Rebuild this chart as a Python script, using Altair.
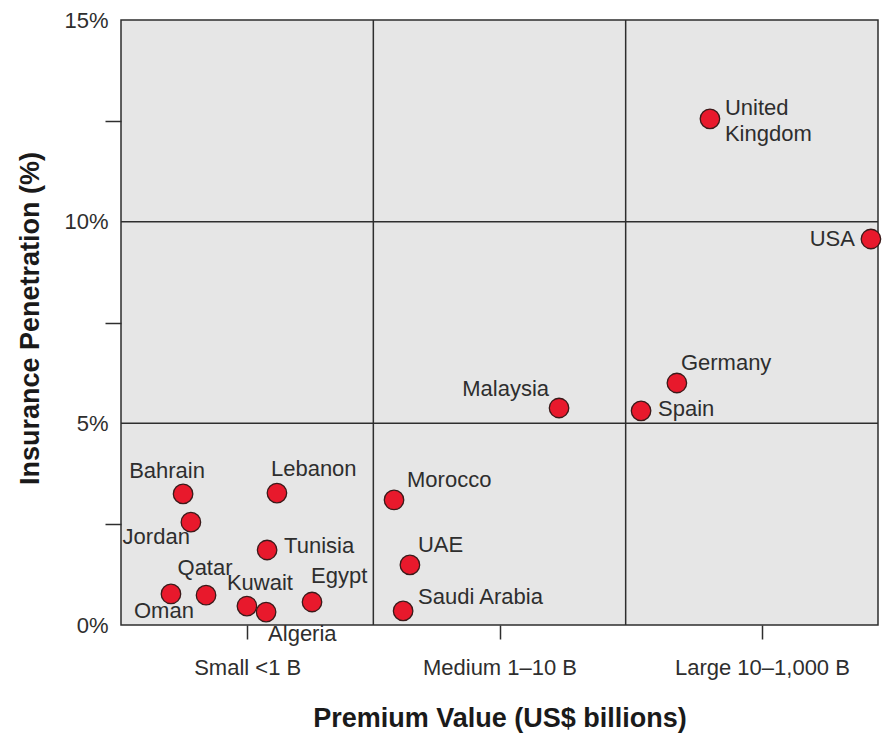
import altair as alt
import pandas as pd

# ---- data ----
countries = ["United Kingdom", "USA", "Germany", "Spain", "Malaysia", "Morocco", "UAE",
             "Saudi Arabia", "Bahrain", "Jordan", "Lebanon", "Tunisia", "Oman", "Qatar",
             "Kuwait", "Algeria", "Egypt"]
# horizontal position within the three premium tiers (0-1 small, 1-2 medium, 2-3 large)
tier_position = [2.334, 2.972, 2.203, 2.061, 1.736, 1.082, 1.145,
                 1.118, 0.246, 0.277, 0.618, 0.579, 0.198, 0.337,
                 0.499, 0.575, 0.757]
penetration = [12.55, 9.57, 6.0, 5.31, 5.38, 3.10, 1.49,
               0.35, 3.25, 2.55, 3.27, 1.86, 0.77, 0.74,
               0.47, 0.32, 0.57]

tier_ticks = [0.5, 1.5, 2.54]
tier_labels = ["Small <1 B", "Medium 1–10 B", "Large 10–1,000 B"]
tier_bounds = [1, 2]
pen_bounds = [5, 10]
pen_ticks = [0, 2.5, 5, 7.5, 10, 12.5, 15]

# ---- label placement (layout only) ----
label_layout = {
    "United Kingdom": ("left", 15, -11),
    "USA": ("right", -16, 0),
    "Germany": ("left", 4, -20),
    "Spain": ("left", 17, -2),
    "Malaysia": ("right", -10, -19),
    "Morocco": ("left", 13, -20),
    "UAE": ("left", 8, -20),
    "Saudi Arabia": ("left", 15, -14),
    "Bahrain": ("center", -16, -23),
    "Jordan": ("right", -1, 15),
    "Lebanon": ("left", -6, -24),
    "Tunisia": ("left", 17, -4),
    "Oman": ("center", -7, 17),
    "Qatar": ("center", -1, -27),
    "Kuwait": ("center", 13, -23),
    "Algeria": ("left", 2, 22),
    "Egypt": ("left", -1, -26),
}

df = pd.DataFrame({"country": countries, "tier": tier_position, "pen": penetration})
df_vb = pd.DataFrame({"tier": tier_bounds})
df_hb = pd.DataFrame({"pen": pen_bounds})

FONT = "Liberation Sans"
INK = "#2e2e2e"

x_scale = alt.Scale(domain=[0, 3], nice=False, zero=False)
y_scale = alt.Scale(domain=[0, 15], nice=False, zero=False)

# label expression for tier ticks built from the lists
expr = "''"
for v, lab in reversed(list(zip(tier_ticks, tier_labels))):
    expr = f"abs(datum.value - {v}) < 0.01 ? '{lab}' : ({expr})"

x_axis = alt.Axis(
    values=tier_ticks, labelExpr=expr, grid=False, domain=False,
    tickSize=14, tickColor=INK, tickWidth=1.5, labelFlush=False,
    labelFont=FONT, labelFontSize=22, labelColor=INK, labelPadding=18,
    title="Premium Value (US$ billions)", titleFont=FONT, titleFontSize=27,
    titleFontWeight="bold", titleColor="#1a1a1a", titleY=101,
    titleBaseline="alphabetic",
)
y_axis = alt.Axis(
    values=pen_ticks,
    labelExpr="datum.value % 5 === 0 ? datum.value + '%' : ''",
    grid=False, domain=False, tickSize=16, tickWidth=1.5,
    tickColor={"condition": {"test": "datum.value % 5 === 0", "value": "transparent"}, "value": INK},
    labelFont=FONT, labelFontSize=22, labelColor=INK, labelPadding=-3, labelOverlap=False,
    labelFlush=False,
    title="Insurance Penetration (%)", titleFont=FONT, titleFontSize=27,
    titleFontWeight="bold", titleColor="#1a1a1a", titleAngle=-90,
    titleX=-91, titleY=298, titleAlign="center", titleBaseline="middle",
)

points = alt.Chart(df).mark_point(
    filled=True, size=380, color="#e8192c", stroke="#3a1a1a", strokeWidth=1.3, opacity=1
).encode(
    x=alt.X("tier:Q", scale=x_scale, axis=x_axis),
    y=alt.Y("pen:Q", scale=y_scale, axis=y_axis),
)

vrules = alt.Chart(df_vb).mark_rule(color=INK, strokeWidth=1.5).encode(
    x=alt.X("tier:Q", scale=x_scale)
)
hrules = alt.Chart(df_hb).mark_rule(color=INK, strokeWidth=1.5).encode(
    y=alt.Y("pen:Q", scale=y_scale)
)

text_layers = []
for c in countries:
    align, dx, dy = label_layout[c]
    kw = dict(align=align, dx=dx, dy=dy, baseline="middle", font=FONT,
              fontSize=22, color=INK)
    if c == "United Kingdom":
        kw.update(lineBreak=" ", lineHeight=26)
    text_layers.append(
        alt.Chart(df).transform_filter(alt.datum.country == c).mark_text(**kw).encode(
            x=alt.X("tier:Q", scale=x_scale),
            y=alt.Y("pen:Q", scale=y_scale),
            text="country:N",
        )
    )

chart = alt.layer(points, vrules, hrules, *text_layers).properties(
    width=757, height=605,
    autosize=alt.AutoSizeParams(type="none"),
    padding={"left": 121, "top": 20, "right": 5, "bottom": 109},
    background="white",
).configure_view(
    fill="#e6e6e6", stroke=INK, strokeWidth=1.5
)

chart.save("out.html", embed_options={"renderer": "svg", "actions": False})
